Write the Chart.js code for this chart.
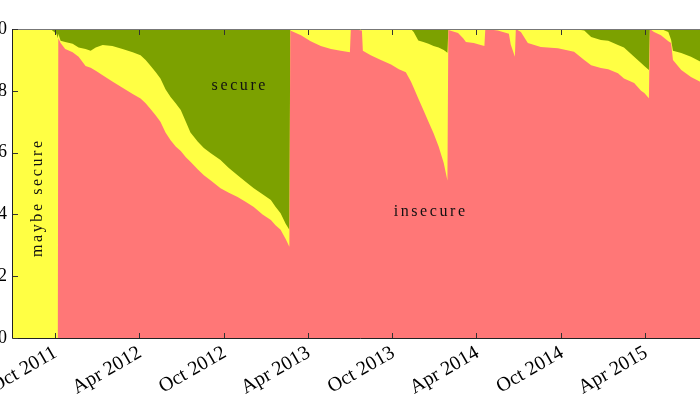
<!DOCTYPE html>
<html lang="en">
<head>
<meta charset="UTF-8">
<title>Secure / maybe secure / insecure</title>
<script src="https://cdn.jsdelivr.net/npm/chart.js"></script>
<style>
  html, body { margin: 0; padding: 0; background: #fff; overflow: hidden; }
  #wrap { position: absolute; left: -40px; top: 0; width: 790px; height: 400px; }
</style>
</head>
<body>
<div id="wrap"><canvas id="chart" width="790" height="400"></canvas></div>
<script>
// sample dates
const dates = [
  '2011-07-01', '2011-09-20', '2011-10-03', '2011-10-06', '2011-10-07', '2011-10-12', '2011-10-22',
  '2011-11-07', '2011-11-20', '2011-12-05', '2011-12-16', '2011-12-27', '2012-01-11', '2012-02-01',
  '2012-02-23', '2012-03-16', '2012-04-02', '2012-04-13', '2012-04-24', '2012-05-05', '2012-05-15',
  '2012-05-26', '2012-06-06', '2012-06-17', '2012-06-28', '2012-07-09', '2012-07-19', '2012-08-04',
  '2012-08-17', '2012-09-01', '2012-09-22', '2012-10-10', '2012-10-29', '2012-11-16', '2012-12-03',
  '2012-12-22', '2013-01-09', '2013-01-19', '2013-01-30', '2013-02-10', '2013-02-18', '2013-02-20',
  '2013-03-15', '2013-04-05', '2013-04-27', '2013-05-19', '2013-06-09', '2013-06-29', '2013-07-01',
  '2013-07-25', '2013-07-27', '2013-08-13', '2013-09-04', '2013-09-26', '2013-10-13', '2013-10-28',
  '2013-11-08', '2013-11-14', '2013-11-24', '2013-12-05', '2013-12-16', '2013-12-27', '2014-01-07',
  '2014-01-18', '2014-01-26', '2014-01-28', '2014-02-18', '2014-03-01', '2014-03-07', '2014-03-24',
  '2014-04-08', '2014-04-16', '2014-04-18', '2014-05-15', '2014-06-08', '2014-06-12', '2014-06-21',
  '2014-06-23', '2014-07-04', '2014-07-19', '2014-08-16', '2014-09-22', '2014-10-27', '2014-11-18',
  '2014-12-03', '2014-12-24', '2015-01-09', '2015-01-30', '2015-02-12', '2015-03-06', '2015-03-21',
  '2015-03-28', '2015-04-07', '2015-04-09', '2015-04-18', '2015-05-03', '2015-05-19', '2015-05-25',
  '2015-05-29', '2015-06-16', '2015-07-07', '2015-07-29', '2015-08-15'
];

const insecure = [
  0, 0, 0, 0, 0.97, 0.955, 0.935,
  0.925, 0.91, 0.88, 0.875, 0.865, 0.85, 0.83,
  0.81, 0.79, 0.775, 0.76, 0.74, 0.72, 0.70,
  0.665, 0.64, 0.62, 0.605, 0.585, 0.57, 0.545,
  0.527, 0.51, 0.485, 0.47, 0.456, 0.44, 0.424,
  0.40, 0.382, 0.365, 0.35, 0.32, 0.295, 0.995,
  0.98, 0.96, 0.945, 0.935, 0.93, 0.925, 1,
  0.995, 0.93, 0.915, 0.9, 0.885, 0.87, 0.86,
  0.83, 0.81, 0.775, 0.738, 0.70, 0.663, 0.62,
  0.566, 0.51, 0.997, 0.987, 0.97, 0.958, 0.955,
  0.948, 0.945, 1, 0.995, 0.985, 0.95, 0.91,
  1, 0.99, 0.955, 0.942, 0.938, 0.926, 0.9,
  0.883, 0.874, 0.87, 0.857, 0.84, 0.825, 0.80,
  0.793, 0.776, 1, 0.99, 0.98, 0.96, 0.955,
  0.9, 0.867, 0.845, 0.828, 0.815
];

const maybeSecure = [
  1, 1, 0.985, 0.97, 0.015, 0.007, 0.023,
  0.027, 0.03, 0.055, 0.055, 0.075, 0.098, 0.115,
  0.125, 0.135, 0.14, 0.14, 0.14, 0.14, 0.14,
  0.14, 0.14, 0.14, 0.133, 0.115, 0.095, 0.09,
  0.088, 0.088, 0.091, 0.08, 0.071, 0.065, 0.061,
  0.065, 0.065, 0.06, 0.054, 0.05, 0.055, 0.005,
  0.02, 0.04, 0.055, 0.065, 0.07, 0.075, 0,
  0.005, 0.07, 0.085, 0.1, 0.115, 0.13, 0.14,
  0.17, 0.18, 0.188, 0.22, 0.252, 0.282, 0.32,
  0.366, 0.413, 0.003, 0.013, 0.03, 0.042, 0.045,
  0.052, 0.055, 0, 0.005, 0.015, 0.05, 0.09,
  0, 0.01, 0.045, 0.058, 0.062, 0.074, 0.095,
  0.091, 0.09, 0.092, 0.091, 0.1, 0.085, 0.09,
  0.087, 0.091, 0, 0.01, 0.02, 0.03, 0.01,
  0.03, 0.055, 0.065, 0.065, 0.073
];

const secure = [
  0, 0, 0.015, 0.03, 0.015, 0.038, 0.042,
  0.048, 0.06, 0.065, 0.07, 0.06, 0.052, 0.055,
  0.065, 0.075, 0.085, 0.1, 0.12, 0.14, 0.16,
  0.195, 0.22, 0.24, 0.262, 0.30, 0.335, 0.365,
  0.385, 0.402, 0.424, 0.45, 0.473, 0.495, 0.515,
  0.535, 0.553, 0.575, 0.596, 0.63, 0.65, 0,
  0, 0, 0, 0, 0, 0, 0,
  0, 0, 0, 0, 0, 0, 0,
  0, 0.01, 0.037, 0.042, 0.048, 0.055, 0.06,
  0.068, 0.077, 0, 0, 0, 0, 0,
  0, 0, 0, 0, 0, 0, 0,
  0, 0, 0, 0, 0, 0, 0.005,
  0.026, 0.036, 0.038, 0.052, 0.06, 0.09, 0.11,
  0.12, 0.133, 0, 0, 0, 0.01, 0.035,
  0.07, 0.078, 0.09, 0.107, 0.112
];

const tickDates = ['2011-10-01', '2012-04-01', '2012-10-01', '2013-04-01', '2013-10-01', '2014-04-01', '2014-10-01', '2015-04-01'];
const tickLabels = ['Oct 2011', 'Apr 2012', 'Oct 2012', 'Apr 2013', 'Oct 2013', 'Apr 2014', 'Oct 2014', 'Apr 2015'];
const yTicks = [0, 0.2, 0.4, 0.6, 0.8, 1.0];

const toDay = d => Date.parse(d) / 864e5;
const serif = '"Liberation Serif", "DejaVu Serif", serif';

function points(values) {
  return dates.map((d, i) => ({ x: toDay(d), y: values[i] }));
}

// letter-spaced text, centred at (0,0)
function spacedText(ctx, text, spacing) {
  const widths = [...text].map(c => ctx.measureText(c).width);
  const total = widths.reduce((a, b) => a + b, 0) + spacing * (text.length - 1);
  let cx = -total / 2;
  [...text].forEach((c, i) => {
    ctx.fillText(c, cx, 0);
    cx += widths[i] + spacing;
  });
}

const framePlugin = {
  id: 'frame',
  afterDatasetsDraw(chart) {
    const { ctx, chartArea: a, scales: { x, y } } = chart;
    ctx.save();
    ctx.lineWidth = 1;

    // top border
    ctx.strokeStyle = '#777';
    ctx.beginPath();
    ctx.moveTo(a.left - 1, a.top + 0.5);
    ctx.lineTo(a.right, a.top + 0.5);
    ctx.stroke();

    // left and bottom axes
    ctx.strokeStyle = '#222';
    ctx.beginPath();
    ctx.moveTo(a.left - 0.5, a.top);
    ctx.lineTo(a.left - 0.5, a.bottom + 0.5);
    ctx.lineTo(a.right, a.bottom + 0.5);
    ctx.stroke();

    // inward ticks
    ctx.strokeStyle = '#333';
    ctx.beginPath();
    x.ticks.forEach(t => {
      const px = Math.round(x.getPixelForValue(t.value)) - 0.5;
      ctx.moveTo(px, a.bottom); ctx.lineTo(px, a.bottom - 5);
      ctx.moveTo(px, a.top + 1); ctx.lineTo(px, a.top + 6);
    });
    y.ticks.forEach(t => {
      const py = Math.round(y.getPixelForValue(t.value)) + 0.5;
      ctx.moveTo(a.left, py); ctx.lineTo(a.left + 5, py);
    });
    ctx.stroke();

    // area names
    ctx.fillStyle = '#111';
    ctx.font = '16px ' + serif;
    ctx.textBaseline = 'middle';
    ctx.textAlign = 'left';
    const names = [
      { text: 'secure', d: '2012-10-31', v: 0.815, rot: 0 },
      { text: 'insecure', d: '2013-12-18', v: 0.41, rot: 0 },
      { text: 'maybe secure', d: '2011-08-23', v: 0.45, rot: -Math.PI / 2 }
    ];
    names.forEach(n => {
      ctx.save();
      ctx.translate(x.getPixelForValue(toDay(n.d)), y.getPixelForValue(n.v));
      ctx.rotate(n.rot);
      spacedText(ctx, n.text, 2.6);
      ctx.restore();
    });
    ctx.restore();
  }
};

const data = {
  datasets: [
    { label: 'insecure', data: points(insecure), backgroundColor: '#FF7777', fill: 'origin' },
    { label: 'maybe secure', data: points(maybeSecure), backgroundColor: '#FFFF44', fill: 'origin' },
    { label: 'secure', data: points(secure), backgroundColor: '#7CA100', fill: 'origin' }
  ]
};

const config = {
  type: 'line',
  data: data,
  options: {
    responsive: false,
    animation: false,
    events: [],
    layout: { padding: { left: 0, right: 41, top: 29, bottom: 0 } },
    elements: {
      line: { borderWidth: 0, tension: 0 },
      point: { radius: 0 }
    },
    plugins: {
      legend: { display: false },
      tooltip: { enabled: false }
    },
    scales: {
      x: {
        type: 'linear',
        min: toDay(dates[0]),
        max: toDay(dates[dates.length - 1]),
        grid: { display: false, drawTicks: false },
        border: { display: false },
        afterBuildTicks: scale => {
          scale.ticks = tickDates.map(d => ({ value: toDay(d) }));
        },
        afterFit: scale => { scale.height = 62; },
        ticks: {
          autoSkip: false,
          minRotation: 30,
          maxRotation: 30,
          padding: 3,
          color: '#000',
          font: { family: serif, size: 20 },
          callback: (value, index) => tickLabels[index]
        }
      },
      y: {
        stacked: true,
        min: 0,
        max: 1,
        grid: { display: false, drawTicks: false },
        border: { display: false },
        afterBuildTicks: scale => {
          scale.ticks = yTicks.map(v => ({ value: v }));
        },
        afterFit: scale => { scale.width = 53; },
        ticks: {
          padding: 6,
          color: '#000',
          font: { family: serif, size: 18 },
          callback: value => value.toFixed(1)
        }
      }
    }
  },
  plugins: [framePlugin]
};

const ctx = document.querySelector('#chart').getContext('2d');
const myChart = new Chart(ctx, config);
</script>
</body>
</html>
